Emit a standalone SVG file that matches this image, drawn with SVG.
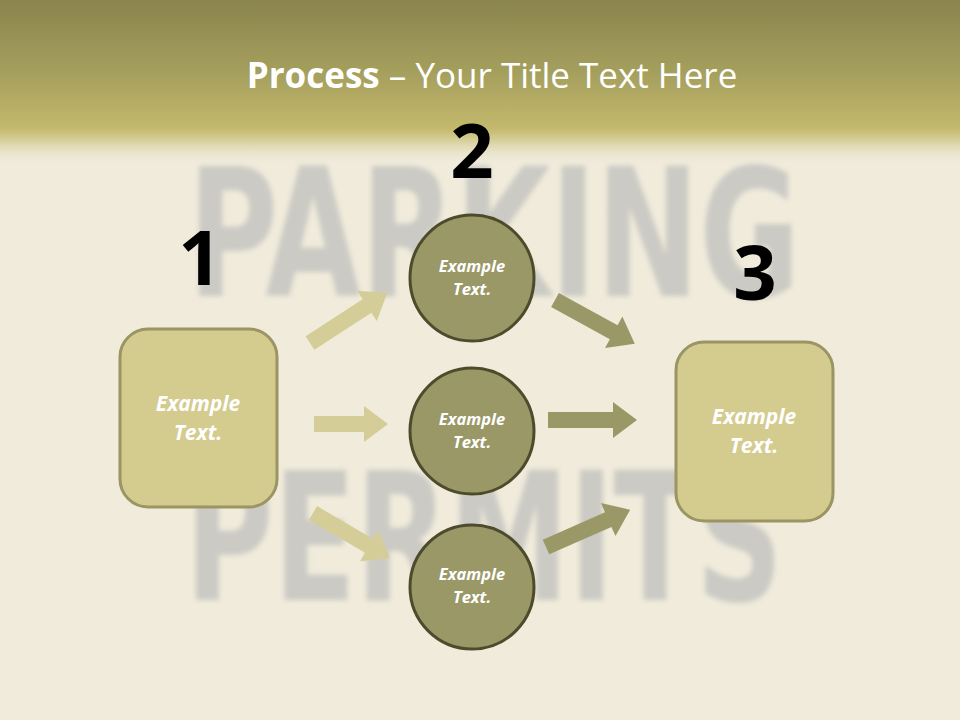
<svg xmlns="http://www.w3.org/2000/svg" width="960" height="720" viewBox="0 0 960 720">
  <defs>
    <linearGradient id="band" x1="0" y1="0" x2="0" y2="1">
      <stop offset="0" stop-color="#8a844e"/>
      <stop offset="0.45" stop-color="#a6a05e"/>
      <stop offset="0.78" stop-color="#c4b96c"/>
      <stop offset="0.86" stop-color="#d9d2a0"/>
      <stop offset="1" stop-color="#efead9" stop-opacity="0"/>
    </linearGradient>
    <filter id="blur" x="-10%" y="-10%" width="120%" height="120%">
      <feGaussianBlur stdDeviation="2.5"/>
    </filter>
    <style>
      .bgword { font-family: "DejaVu Sans Condensed", "DejaVu Sans", sans-serif; font-weight: bold; fill: #cbcac4; }
      .title { font-family: "Open Sans", "Liberation Sans", sans-serif; font-size: 35px; fill: #ffffff; }
      .num { font-family: "Open Sans", "Liberation Sans", sans-serif; font-weight: bold; font-size: 76px; fill: #000000; text-anchor: middle; }
      .box { fill: #d4cb8f; stroke: #9b9463; stroke-width: 3; }
      .circ { fill: #9a9867; stroke: #4d4b2b; stroke-width: 3; }
      .lbl { font-family: "Open Sans", "Liberation Sans", sans-serif; font-weight: bold; font-style: italic; fill: #ffffff; text-anchor: middle; }
      .big { font-size: 21px; }
      .small { font-size: 16.5px; }
      .arrL { fill: #d5cd97; }
      .arrR { fill: #9a9866; }
    </style>
  </defs>

  <rect x="0" y="0" width="960" height="720" fill="#f0ebdb"/>
  <rect x="0" y="0" width="960" height="165" fill="url(#band)"/>

  <g filter="url(#blur)">
    <text class="bgword" x="188" y="296" font-size="178" textLength="612" lengthAdjust="spacingAndGlyphs">PARKING</text>
    <text class="bgword" x="185" y="600" font-size="178" textLength="598" lengthAdjust="spacingAndGlyphs">PERMITS</text>
  </g>

  <text class="title" x="492" y="88" text-anchor="middle"><tspan font-weight="bold">Process</tspan> – Your Title Text Here</text>

  <g id="connectors">
    <path class="arrL" transform="translate(310,343) rotate(-33)" d="M0,-8 L68,-8 L68,-18 L92,0 L68,18 L68,8 L0,8 Z"/>
    <path class="arrL" transform="translate(314,424)" d="M0,-8 L50,-8 L50,-18 L74,0 L50,18 L50,8 L0,8 Z"/>
    <path class="arrL" transform="translate(313,513) rotate(30.3)" d="M0,-8 L65,-8 L65,-18 L89,0 L65,18 L65,8 L0,8 Z"/>
    <path class="arrR" transform="translate(555,300) rotate(28.8)" d="M0,-8 L67,-8 L67,-18 L91,0 L67,18 L67,8 L0,8 Z"/>
    <path class="arrR" transform="translate(548,420)" d="M0,-8 L65,-8 L65,-18 L89,0 L65,18 L65,8 L0,8 Z"/>
    <path class="arrR" transform="translate(546,547) rotate(-23.8)" d="M0,-8 L68,-8 L68,-18 L92,0 L68,18 L68,8 L0,8 Z"/>
  </g>

  <g id="step1">
    <text class="num" x="200" y="285">1</text>
    <rect class="box" x="120" y="329" width="157" height="178" rx="28"/>
    <text class="lbl big" x="198" y="411">Example</text>
    <text class="lbl big" x="198" y="440">Text.</text>
  </g>

  <g id="step2">
    <text class="num" x="472" y="178">2</text>
  </g>

  <g id="node2a">
    <ellipse class="circ" cx="472" cy="278" rx="62" ry="63"/>
    <text class="lbl small" x="472" y="272">Example</text>
    <text class="lbl small" x="472" y="295">Text.</text>
  </g>

  <g id="node2b">
    <ellipse class="circ" cx="472" cy="431" rx="62" ry="63"/>
    <text class="lbl small" x="472" y="425">Example</text>
    <text class="lbl small" x="472" y="448">Text.</text>
  </g>

  <g id="node2c">
    <ellipse class="circ" cx="472" cy="587" rx="62" ry="62"/>
    <text class="lbl small" x="472" y="580">Example</text>
    <text class="lbl small" x="472" y="603">Text.</text>
  </g>

  <g id="step3">
    <text class="num" x="755" y="300">3</text>
    <rect class="box" x="676" y="342" width="157" height="179" rx="28"/>
    <text class="lbl big" x="754" y="424">Example</text>
    <text class="lbl big" x="754" y="453">Text.</text>
  </g>
</svg>
